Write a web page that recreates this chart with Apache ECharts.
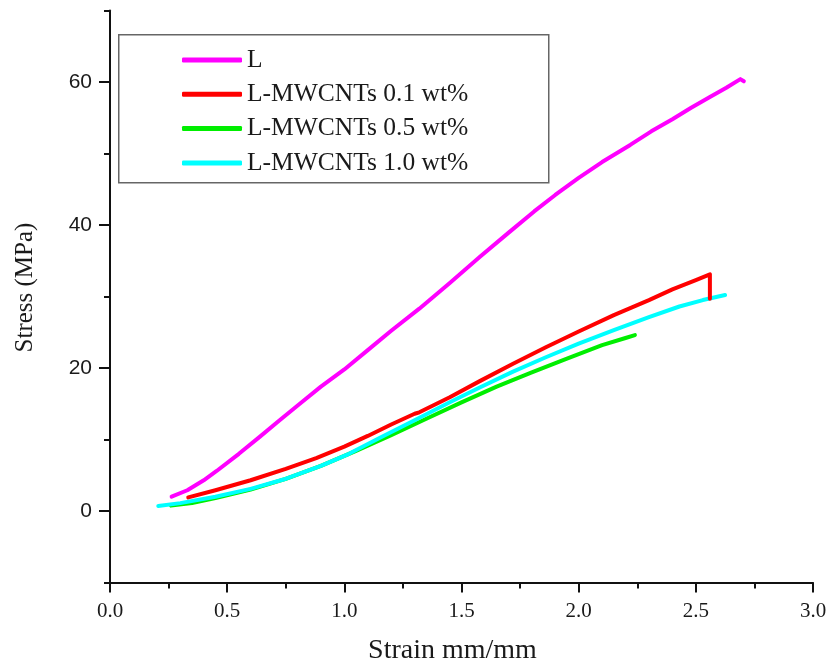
<!DOCTYPE html>
<html>
<head>
<meta charset="utf-8">
<script src="https://cdn.jsdelivr.net/npm/echarts@6/dist/echarts.min.js"></script>
<style>html,body{margin:0;padding:0;background:#fff}#c{width:827px;height:667px}</style>
</head>
<body>
<div id="c"></div>
<script>
var seriesNames = ['L', 'L-MWCNTs 0.1 wt%', 'L-MWCNTs 0.5 wt%', 'L-MWCNTs 1.0 wt%'];
var seriesColors = ['#ff00ff', '#ff0000', '#00ee00', '#00ffff'];
var xTicks = [0, 0.5, 1.0, 1.5, 2.0, 2.5, 3.0];
var yTicks = [0, 20, 40, 60];
var yMinorTicks = [-10, 10, 30, 50, 70];

var dataL = [[0.263,2.0],[0.33,2.9],[0.4,4.3],[0.455,5.6],[0.55,8.0],[0.64,10.4],[0.72,12.6],[0.81,15.0],[0.9,17.4],[1.0,19.8],[1.1,22.5],[1.2,25.2],[1.32,28.3],[1.45,31.9],[1.58,35.6],[1.7,38.9],[1.81,41.9],[1.9,44.2],[2.0,46.6],[2.1,48.8],[2.22,51.2],[2.31,53.1],[2.4,54.8],[2.48,56.4],[2.56,57.9],[2.63,59.2],[2.69,60.4],[2.705,60.1]];
var data01 = [[0.334,1.9],[0.45,2.9],[0.6,4.3],[0.75,5.9],[0.88,7.4],[1.0,9.0],[1.1,10.5],[1.2,12.1],[1.3,13.6],[1.32,13.8],[1.45,15.9],[1.58,18.2],[1.72,20.6],[1.86,22.9],[2.0,25.1],[2.15,27.4],[2.3,29.5],[2.4,31.0],[2.5,32.3],[2.56,33.1],[2.56,29.7]];
var data05 = [[0.26,0.75],[0.35,1.1],[0.45,1.8],[0.6,3.0],[0.75,4.5],[0.9,6.3],[1.05,8.4],[1.2,10.6],[1.35,12.9],[1.5,15.2],[1.65,17.4],[1.8,19.4],[1.95,21.3],[2.1,23.2],[2.2,24.2],[2.24,24.6]];
var data10 = [[0.206,0.7],[0.3,1.1],[0.45,2.0],[0.6,3.1],[0.74,4.4],[0.9,6.3],[1.02,8.0],[1.15,10.2],[1.3,12.7],[1.45,15.2],[1.58,17.3],[1.72,19.5],[1.86,21.5],[2.0,23.4],[2.15,25.3],[2.3,27.1],[2.43,28.6],[2.53,29.5],[2.625,30.2]];
var allData = [dataL, data01, data05, data10];
var zOrder = [13, 12, 10, 11];

var chart = echarts.init(document.getElementById('c'), null, {renderer: 'canvas'});
var serif = 'Liberation Serif';
var axisColor = '#111';
var txt = '#1a1a1a';

var series = seriesNames.map(function (n, i) {
  return {
    name: n, type: 'line', data: allData[i], showSymbol: false, symbol: 'none',
    smooth: false, z: zOrder[i],
    lineStyle: {color: seriesColors[i], width: 4, cap: 'round', join: 'round'},
    itemStyle: {color: seriesColors[i]}
  };
});

chart.setOption({
  animation: false,
  backgroundColor: '#fff',
  grid: {left: 110, right: 14, top: 10.5, bottom: 84.5, containLabel: false, outerBoundsMode: 'none'},
  graphic: [{
    type: 'rect', left: 118, top: 34, z: 50,
    shape: {width: 430, height: 148},
    style: {fill: '#fff', stroke: '#666', lineWidth: 1.5}
  }],
  legend: {
    orient: 'vertical', left: 182, top: 47, z: 60, padding: 0,
    itemWidth: 60, itemHeight: 5, itemGap: 8.3, icon: 'roundRect',
    data: seriesNames,
    textStyle: {fontFamily: serif, fontSize: 25.5, color: txt, lineHeight: 25}
  },
  xAxis: {
    type: 'value', min: 0, max: 3, interval: 0.5,
    name: 'Strain mm/mm', nameLocation: 'middle', nameGap: 54,
    nameTextStyle: {fontFamily: serif, fontSize: 28, color: txt, padding: [0, 18, 0, 0]},
    axisLine: {show: true, onZero: false, lineStyle: {color: axisColor, width: 2}},
    axisTick: {show: true, length: 10, lineStyle: {color: axisColor, width: 2}},
    minorTick: {show: true, splitNumber: 2, length: 6, lineStyle: {color: axisColor, width: 2}},
    splitLine: {show: false}, minorSplitLine: {show: false},
    axisLabel: {fontFamily: serif, fontSize: 21, color: txt, margin: 18,
      customValues: xTicks, formatter: function (v) { return v.toFixed(1); }}
  },
  yAxis: [{
    type: 'value', min: -10, max: 70, position: 'left',
    name: 'Stress (MPa)', nameLocation: 'middle', nameGap: 72, nameRotate: 90,
    nameTextStyle: {fontFamily: serif, fontSize: 25, color: txt, padding: [0, 0, 0, 18]},
    axisLine: {show: true, onZero: false, lineStyle: {color: axisColor, width: 2}},
    axisTick: {show: true, length: 11, customValues: yTicks, lineStyle: {color: axisColor, width: 2}},
    splitLine: {show: false},
    axisLabel: {fontFamily: 'Liberation Sans', fontSize: 21, color: txt, margin: 18, customValues: yTicks}
  }, {
    type: 'value', min: -10, max: 70, position: 'left', offset: 0,
    axisLine: {show: false},
    axisTick: {show: true, length: 6, customValues: yMinorTicks, lineStyle: {color: axisColor, width: 2}},
    splitLine: {show: false},
    axisLabel: {show: false}
  }],
  series: series
});
</script>
</body>
</html>
